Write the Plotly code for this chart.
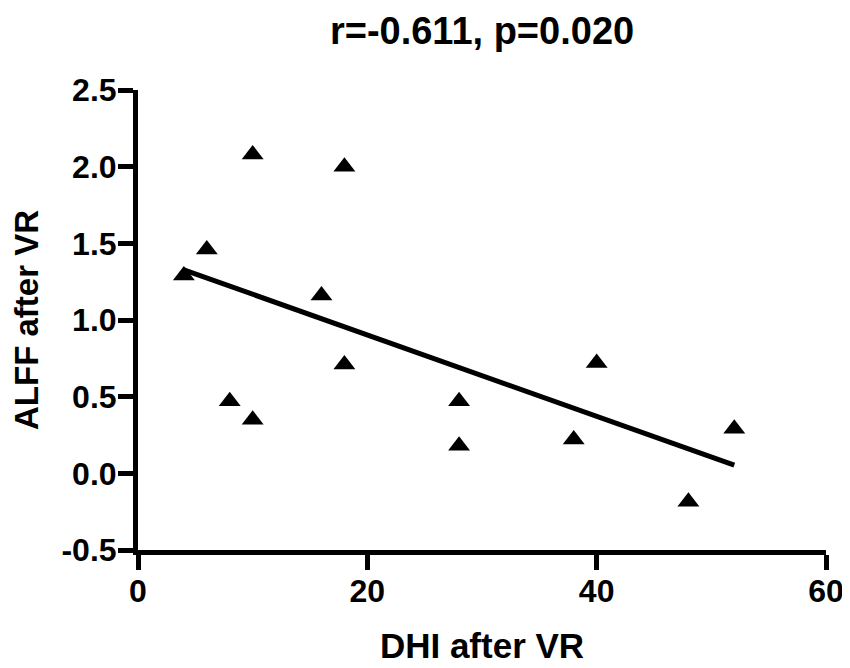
import plotly.graph_objects as go

# DHI after VR vs ALFF after VR
dhi = [10, 18, 6, 4, 16, 18, 8, 10, 40, 28, 28, 38, 52, 48]
alff = [2.08, 2.00, 1.46, 1.29, 1.16, 0.71, 0.47, 0.35, 0.72, 0.47, 0.18, 0.22, 0.29, -0.185]

# regression line end points
fit_x = [4, 52]
fit_y = [1.327, 0.053]

x_ticks = [0, 20, 40, 60]
x_labels = ["0", "20", "40", "60"]
y_ticks = [-0.5, 0.0, 0.5, 1.0, 1.5, 2.0, 2.5]
y_labels = ["-0.5", "0.0", "0.5", "1.0", "1.5", "2.0", "2.5"]

font = "Liberation Sans, Arial, sans-serif"

fig = go.Figure()
fig.add_trace(go.Scatter(
    x=fit_x, y=fit_y, mode="lines",
    line=dict(color="black", width=5),
    hoverinfo="skip",
))
fig.add_trace(go.Scatter(
    x=dhi, y=alff, mode="markers",
    marker=dict(symbol="triangle-up", size=19, color="black"),
))

axis_common = dict(
    showgrid=False, zeroline=False, automargin=False,
    showline=True, linecolor="black", linewidth=5,
    ticks="outside", ticklen=15, tickwidth=5, tickcolor="black",
    tickfont=dict(family=font, size=32, color="black"),
)

# page body has an 8px margin, so the figure is a bit smaller than the window
fig.update_layout(
    width=842, height=660,
    margin=dict(l=130, r=24, t=82, b=118),
    plot_bgcolor="white", paper_bgcolor="white",
    showlegend=False,
    title=dict(
        text="<b>r=-0.611, p=0.020</b>",
        font=dict(family=font, size=38, color="black"),
        x=0.563, xanchor="center",
        y=1 - 23 / 660, yanchor="middle",
    ),
    xaxis=dict(
        range=[0, 60], tickvals=x_ticks, ticktext=["<b>%s</b>" % t for t in x_labels],
        ticklabelstandoff=-6,
        title=dict(text="<b>DHI after VR</b>", standoff=27,
                   font=dict(family=font, size=35, color="black")),
        **axis_common,
    ),
    yaxis=dict(
        range=[-0.5, 2.5], tickvals=y_ticks, ticktext=["<b>%s</b>" % t for t in y_labels],
        ticklabelstandoff=-5,
        title=dict(text="<b>ALFF after VR</b>", standoff=14,
                   font=dict(family=font, size=33, color="black")),
        **axis_common,
    ),
)

fig.write_html("out.html")
